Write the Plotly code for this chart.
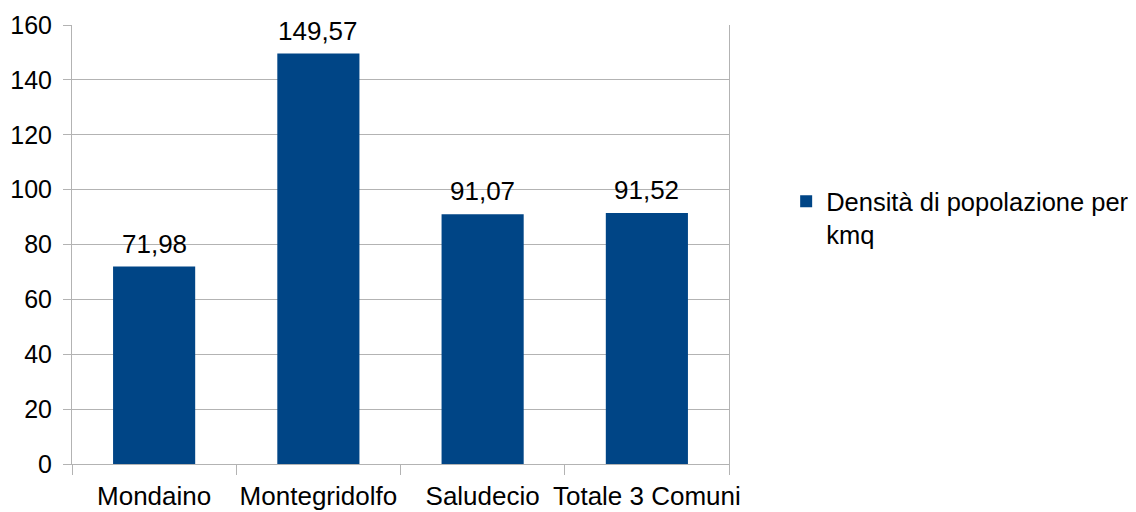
import plotly.graph_objects as go

categories = ["Mondaino", "Montegridolfo", "Saludecio", "Totale 3 Comuni"]
values = [71.98, 149.57, 91.07, 91.52]
labels = ["71,98", "149,57", "91,07", "91,52"]
series_name = "Densità di popolazione per<br>kmq"

FONT = "Liberation Sans, Arial, sans-serif"
GRID = "#b3b3b3"
FS = 26
FSY = 25
FSL = 25.5

fig = go.Figure()
fig.add_trace(go.Bar(
    x=categories, y=values, name=series_name,
    marker=dict(color="#004586", line=dict(width=0)),
    showlegend=True,
))
for c, v, t in zip(categories, values, labels):
    fig.add_annotation(x=c, y=v, text=t, showarrow=False, yanchor="bottom",
                       yshift=6, font=dict(size=FS, color="#000000", family=FONT))
fig.update_layout(
    width=1136, height=512,
    margin=dict(l=64, r=415, t=17, b=56, autoexpand=False),
    paper_bgcolor="white", plot_bgcolor="white",
    font=dict(family=FONT, size=FS, color="#000000"),
    bargap=0.5,
    showlegend=True,
    legend=dict(x=1.087, y=0.651, xanchor="left", yanchor="top",
                valign="top", font=dict(size=FSL, family=FONT, color="#000000"),
                bgcolor="rgba(0,0,0,0)"),
    xaxis=dict(type="category", tickson="boundaries", ticks="outside", ticklen=10,
               tickcolor=GRID, showline=True, linecolor=GRID, linewidth=1,
               showgrid=False, mirror=False, tickfont=dict(size=FS),
               tickangle=0, automargin=False, ticklabelstandoff=9),
    yaxis=dict(range=[0, 160], dtick=20, ticks="outside", ticklen=8, tickcolor=GRID,
               showgrid=True, gridcolor=GRID, gridwidth=1, showline=True,
               linecolor=GRID, linewidth=1, zeroline=False, tickfont=dict(size=FSY),
               mirror=True, automargin=False, ticklabelstandoff=6),
)
fig.write_html("out.html")
